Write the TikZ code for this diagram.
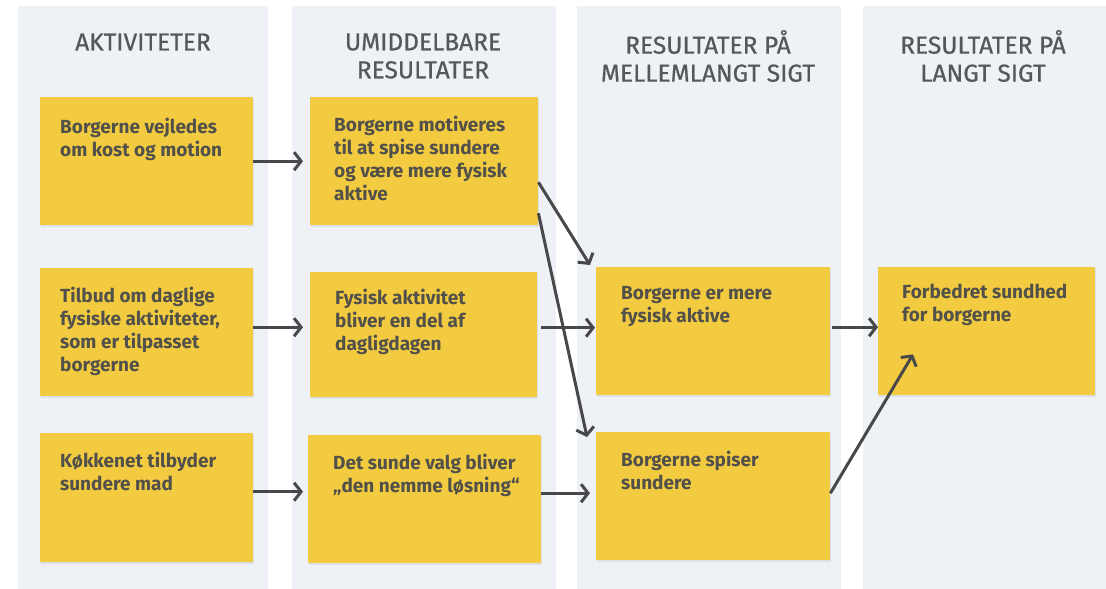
\documentclass[tikz,border=0pt]{standalone}
\usepackage{fontspec}
\setmainfont{Fira Sans}
\newfontfamily\headfont[FakeBold=0.6]{Fira Sans}
\usetikzlibrary{arrows.meta,shadows}
\definecolor{notey}{RGB}{242,203,64}
\definecolor{lanebg}{RGB}{238,242,247}
\definecolor{ink}{RGB}{82,80,74}
\definecolor{arrink}{RGB}{72,72,74}
\definecolor{headink}{RGB}{84,88,92}
\tikzset{
  note/.style={fill=notey, anchor=north west, inner sep=0pt,
    drop shadow={shadow xshift=1pt,shadow yshift=-2pt,opacity=.15}},
  notetext/.style={anchor=north west, inner sep=0pt, align=left, text=ink,
    font=\bfseries\fontsize{19}{22.8}\selectfont},
  heading/.style={align=center, text=headink, font=\headfont\fontsize{24.5}{28}\selectfont},
  arr/.style={draw=arrink, line width=3pt,
    -{Straight Barb[length=7pt,width=18pt,line width=3pt]}}
}
\begin{document}
\begin{tikzpicture}[x=1pt,y=-1pt]
  \useasboundingbox (0,0) rectangle (1106,589);
  \fill[white] (0,0) rectangle (1106,589);
  % lanes
  \fill[lanebg] (18,6) rectangle (268,589);
  \fill[lanebg] (292,6) rectangle (556,589);
  \fill[lanebg] (577,6) rectangle (841,589);
  \fill[lanebg] (863,6) rectangle (1106,589);

  \node[heading] (h1) at (143,42) {AKTIVITETER};
  \node[heading] (h2) at (423,56) {UMIDDELBARE\\RESULTATER};
  \node[heading] (h3) at (708,56) {RESULTATER PÅ\\MELLEMLANGT SIGT};
  \node[heading] (h4) at (983,56) {RESULTATER PÅ\\LANGT SIGT};

  % sticky notes
  \node[note, minimum width=213pt, minimum height=128pt] (a1) at (40,97) {};
  \node[note, minimum width=213pt, minimum height=128pt] (a2) at (40,268) {};
  \node[note, minimum width=213pt, minimum height=129pt] (a3) at (40,433) {};
  \node[note, minimum width=228pt, minimum height=128pt] (b1) at (310,97) {};
  \node[note, minimum width=227pt, minimum height=125pt] (b2) at (310,272) {};
  \node[note, minimum width=233pt, minimum height=128pt] (b3) at (308,435) {};
  \node[note, minimum width=234pt, minimum height=128pt] (c2) at (596,267) {};
  \node[note, minimum width=234pt, minimum height=128pt] (c3) at (596,432) {};
  \node[note, minimum width=217pt, minimum height=128pt] (d2) at (878,267) {};

  \node[notetext] (a1t) at ([shift={(20,21)}]a1.north west)
    {Borgerne vejledes\\om kost og motion};
  \node[notetext] (a2t) at ([shift={(20,19)}]a2.north west)
    {Tilbud om daglige\\fysiske aktiviteter,\\som er tilpasset\\borgerne};
  \node[notetext] (a3t) at ([shift={(20,19)}]a3.north west)
    {Køkkenet tilbyder\\sundere mad};
  \node[notetext] (b1t) at ([shift={(24,19)}]b1.north west)
    {Borgerne motiveres\\til at spise sundere\\og være mere fysisk\\aktive};
  \node[notetext] (b2t) at ([shift={(25,17)}]b2.north west)
    {Fysisk aktivitet\\bliver en del af\\dagligdagen};
  \node[notetext] (b3t) at ([shift={(25,19)}]b3.north west)
    {Det sunde valg bliver\\„den nemme løsning“};
  \node[notetext] (c2t) at ([shift={(25,19)}]c2.north west)
    {Borgerne er mere\\fysisk aktive};
  \node[notetext] (c3t) at ([shift={(25,19)}]c3.north west)
    {Borgerne spiser\\sundere};
  \node[notetext] (d2t) at ([shift={(24,17)}]d2.north west)
    {Forbedret sundhed\\for borgerne};

  % arrows
  \draw[arr, shorten >=7pt] (a1.east) -- (a1.east -| b1.west);
  \draw[arr, shorten >=7pt] ([yshift=5pt]a2.east) -- ([yshift=5pt]a2.east -| b2.west);
  \draw[arr, shorten >=5pt] ([yshift=6pt]a3.east) -- ([yshift=6pt]a3.east -| b3.west);
  \draw[arr, shorten <=4pt, shorten >=1pt] ([yshift=7pt]b2.east) -- ([yshift=7pt]b2.east -| c2.west);
  \draw[arr, shorten >=6pt] ([yshift=6pt]b3.east) -- ([yshift=6pt]b3.east -| c3.west);
  \draw[arr, shorten <=2pt] ([yshift=4pt]c2.east) -- ([yshift=4pt]c2.east -| d2.west);
  \draw[arr] ([yshift=-21pt]b1.east) -- ([shift={(-6,-2)}]c2.north west);
  \draw[arr] ([yshift=-52pt]b1.east) -- ([shift={(-9,5)}]c3.north west);
  \draw[arr] ([yshift=3pt]c3.east) -- ([shift={(35,-41)}]d2.south west);
\end{tikzpicture}
\end{document}
